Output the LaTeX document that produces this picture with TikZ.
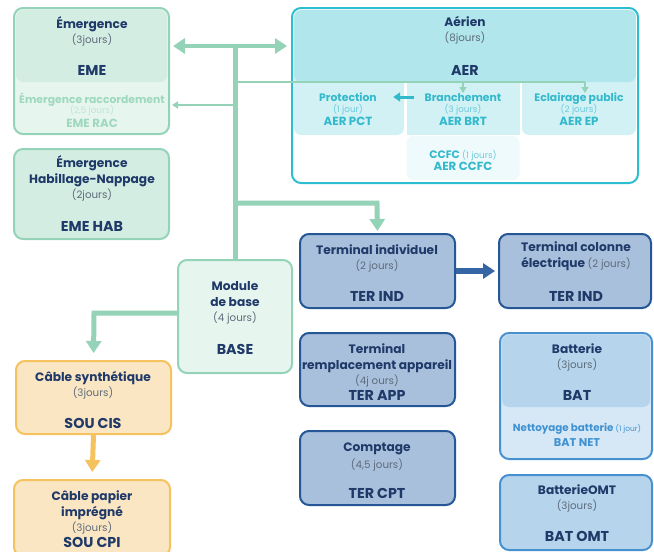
\documentclass[tikz,border=0pt]{standalone}
\usepackage{fontspec}
\setmainfont{Poppins}
\usepackage{tikz}
\usetikzlibrary{positioning,arrows.meta}

\definecolor{navy}{HTML}{1F3968}
\definecolor{grisj}{HTML}{5D6B7B}
\definecolor{vertB}{HTML}{94D3B8}
\definecolor{vertH}{HTML}{D4EDE3}
\definecolor{vertL}{HTML}{E7F5EF}
\definecolor{vertT}{HTML}{9ED9BF}
\definecolor{vertTT}{HTML}{BDE6D4}
\definecolor{cyanB}{HTML}{2CBDD0}
\definecolor{cyanH}{HTML}{B1E6EC}
\definecolor{cyanL}{HTML}{D1F1F5}
\definecolor{cyanLL}{HTML}{EFFAFC}
\definecolor{cyanT}{HTML}{33B9CC}
\definecolor{cyanTT}{HTML}{6CCBDB}
\definecolor{orB}{HTML}{F4C25E}
\definecolor{orF}{HTML}{FBE6C3}
\definecolor{terB}{HTML}{255696}
\definecolor{terF}{HTML}{A9C0DC}
\definecolor{terA}{HTML}{3565A5}
\definecolor{batB}{HTML}{4891D0}
\definecolor{batH}{HTML}{B6D5EC}
\definecolor{batL}{HTML}{D6E7F5}
\definecolor{batT}{HTML}{3F92D2}

\tikzset{
  boite/.style={rounded corners=9pt, line width=2pt, inner sep=0pt},
  zone/.style={rounded corners=7pt, inner sep=0pt},
  titre/.style={font=\bfseries\fontsize{12.2}{13}\selectfont, text=navy, inner sep=0pt, anchor=base, yshift=-4.8pt},
  jours/.style={font=\fontsize{10.3}{11}\selectfont, text=grisj, inner sep=0pt, anchor=base, yshift=-4.2pt},
  code/.style={font=\bfseries\fontsize{14.3}{15}\selectfont, text=navy, inner sep=0pt, anchor=base, yshift=-5pt},
  petit/.style={font=\bfseries\fontsize{10.8}{11}\selectfont, inner sep=0pt, anchor=base, yshift=-4.2pt},
  petitj/.style={font=\fontsize{8.8}{9}\selectfont, inner sep=0pt, anchor=base, yshift=-3.3pt},
  petitc/.style={font=\bfseries\fontsize{11.8}{12}\selectfont, inner sep=0pt, anchor=base, yshift=-4.3pt},
  fleche/.style={line width=4.5pt, -{Triangle[width=15pt,length=12pt]}},
  fin/.style={line width=2.2pt, -{Triangle[width=7pt,length=6pt]}}
}

\begin{document}
\begin{tikzpicture}[x=1pt,y=-1pt]
\useasboundingbox (0,0) rectangle (654,552);

% boites vertes
\node[boite, draw=vertB, fill=vertL, minimum width=155, minimum height=126] (eme) at (91.5,71) {};
\node[zone, fill=vertH, minimum width=151, minimum height=72] (emeH) at (91.5,46) {};
\node[titre] (emeT) at (92,24) {Émergence};
\node[jours] (emeJ) at (92,39) {(3jours)};
\node[code] (emeC) at (92,70) {EME};
\node[petit, text=vertT] (racT) at (92,99) {Émergence raccordement};
\node[petitj, text=vertTT] (racJ) at (92,110) {(2,5 jours)};
\node[petitc, text=vertT] (racC) at (92,123) {EME RAC};

\node[boite, draw=vertB, fill=vertH, minimum width=155, minimum height=90] (hab) at (91.5,194) {};
\node[titre] (habT) at (92,163) {Émergence};
\node[titre] (habT2) at (92,179) {Habillage-Nappage};
\node[jours] (habJ) at (92,194) {(2jours)};
\node[code] (habC) at (92,226) {EME HAB};

\node[boite, draw=vertB, fill=vertL, minimum width=114, minimum height=113] (base) at (235,316.5) {};
\node[titre] (baseT) at (235,286) {Module};
\node[titre] (baseT2) at (235,302) {de base};
\node[jours] (baseJ) at (235,317) {(4 jours)};
\node[code] (baseC) at (235,349) {BASE};

% aerien
\node[boite, draw=cyanB, fill=white, minimum width=346, minimum height=175] (aer) at (465,95.5) {};
\node[zone, fill=cyanL, minimum width=110, minimum height=64] (pct) at (349,103) {};
\node[inner sep=0pt, fill=cyanL, minimum width=113, minimum height=64] (brt) at (463,103) {};
\node[zone, fill=cyanL, minimum width=114, minimum height=64] (ep) at (579,103) {};
\node[zone, fill=cyanLL, minimum width=113, minimum height=44] (ccfc) at (463,158) {};
\node[zone, fill=cyanH, minimum width=342, minimum height=72] (aerH) at (465,46) {};
\node[titre] (aerT) at (465,22) {Aérien};
\node[jours] (aerJ) at (465,37) {(8jours)};
\node[code] (aerC) at (465,70) {AER};
\foreach \n/\x/\t/\j/\c in {pct/348/Protection/(1 jour)/AER PCT, brt/463/Branchement/(3 jours)/AER BRT, ep/579/Eclairage public/(2 jours)/AER EP}{
  \node[petit, text=cyanT] (\n T) at (\x,97) {\t};
  \node[petitj, text=cyanTT] (\n J) at (\x,109) {\j};
  \node[petitc, text=cyanT] (\n C) at (\x,121) {\c};
}
\node[petit, text=cyanT] (ccfcT) at (463,154) {CCFC {\mdseries\fontsize{8.8}{9}\selectfont\color{cyanTT}(1 jours)}};
\node[petitc, text=cyanT] (ccfcC) at (463,166) {AER CCFC};

% souterrain
\node[boite, draw=orB, fill=orF, minimum width=155, minimum height=73] (cis) at (93.5,397.5) {};
\node[titre] (cisT) at (93,377) {Câble synthétique};
\node[jours] (cisJ) at (93,392) {(3jours)};
\node[code] (cisC) at (93,423) {SOU CIS};

\node[boite, draw=orB, fill=orF, minimum width=156, minimum height=76] (cpi) at (92,518) {};
\node[titre] (cpiT) at (92,496) {Câble papier};
\node[titre] (cpiT2) at (92,512) {imprégné};
\node[jours] (cpiJ) at (92,527) {(3jours)};
\node[code] (cpiC) at (92,542) {SOU CPI};

% terminal
\node[boite, draw=terB, fill=terF, minimum width=155, minimum height=74] (tind) at (377.5,271) {};
\node[titre] (tindT) at (377,250) {Terminal individuel};
\node[jours] (tindJ) at (377,265) {(2 jours)};
\node[code] (tindC) at (377,296) {TER IND};

\node[boite, draw=terB, fill=terF, minimum width=152, minimum height=74] (tcol) at (575,271) {};
\node[titre] (tcolT) at (576,247) {Terminal colonne};
\node[titre] (tcolT2) at (576,263) {électrique {\mdseries\fontsize{10.3}{11}\selectfont\color{grisj}(2 jours)}};
\node[code] (tcolC) at (576,296) {TER IND};

\node[boite, draw=terB, fill=terF, minimum width=155, minimum height=73] (tapp) at (377.5,369.5) {};
\node[titre] (tappT) at (377,349) {Terminal};
\node[titre] (tappT2) at (377,365) {remplacement appareil};
\node[jours] (tappJ) at (377,380) {(4j ours)};
\node[code] (tappC) at (377,395) {TER APP};

\node[boite, draw=terB, fill=terF, minimum width=155, minimum height=74] (tcpt) at (377.5,468) {};
\node[titre] (tcptT) at (377,447) {Comptage};
\node[jours] (tcptJ) at (377,464) {(4,5 jours)};
\node[code] (tcptC) at (377,493) {TER CPT};

% batterie
\node[boite, draw=batB, fill=batL, minimum width=152, minimum height=126] (bat) at (576,396) {};
\node[zone, fill=batH, minimum width=148, minimum height=72] (batH) at (576,371) {};
\node[titre] (batT) at (577,349) {Batterie};
\node[jours] (batJ) at (577,364) {(3jours)};
\node[code] (batC) at (577,395) {BAT};
\node[petit, text=batT, font=\bfseries\fontsize{10.3}{11}\selectfont] (netT) at (577,427.5) {Nettoyage batterie {\mdseries\fontsize{7.5}{8}\selectfont(1 jour)}};
\node[petitc, text=batT, font=\bfseries\fontsize{11.3}{12}\selectfont] (netC) at (577,442) {BAT NET};

\node[boite, draw=batB, fill=batH, minimum width=152, minimum height=75] (omt) at (576,512.5) {};
\node[titre] (omtT) at (577,490) {BatterieOMT};
\node[jours] (omtJ) at (577,505) {(3jours)};
\node[code] (omtC) at (577,536) {BAT OMT};

% liaisons
\coordinate (tronc) at (235,46);
\coordinate (jAer) at (235,82);
\coordinate (jBrt) at (463,82);
\coordinate (jEp) at (585,82);
\coordinate (jRac) at (235,105);
\coordinate (jTer) at (235,203);
\coordinate (cTer) at (377,203);
\coordinate (cSou) at (94,313);
\draw[vertB, line width=5pt] (tronc) -- (base.north);
\draw[vertB, fleche, {Triangle[width=15pt,length=12pt]}-{Triangle[width=15pt,length=12pt]}, shorten <=3pt, shorten >=4pt] (eme.east |- tronc) -- (aer.west |- tronc);
\draw[vertB, line width=2.2pt] (jAer) -- (jEp);
\draw[vertB, fin, line width=1.6pt] (jBrt) -- (463,93);
\draw[vertB, fin, line width=1.6pt] (jEp) -- (585,93);
\draw[vertB, fin, shorten >=2pt] (jRac) -- (eme.east |- jRac);
\draw[cyanT, line width=3pt, -{Triangle[width=9pt,length=7pt]}] ([xshift=7.5pt]brt.west |- 0,97) -- ([xshift=-11pt]pct.east |- 0,97);
\draw[vertB, fleche, line width=5pt, shorten >=2pt] (jTer) -- (cTer) -- (tind.north);
\draw[vertB, fleche, line width=5pt, shorten >=7pt] (base.west |- cSou) -- (cSou) -- (cis.north);
\draw[orB, fleche, line width=5pt, shorten >=7pt] (cis.south) -- (cpi.north);
\draw[terA, fleche, line width=6pt, shorten >=3pt] (tind.east) -- (tcol.west);
\end{tikzpicture}
\end{document}
